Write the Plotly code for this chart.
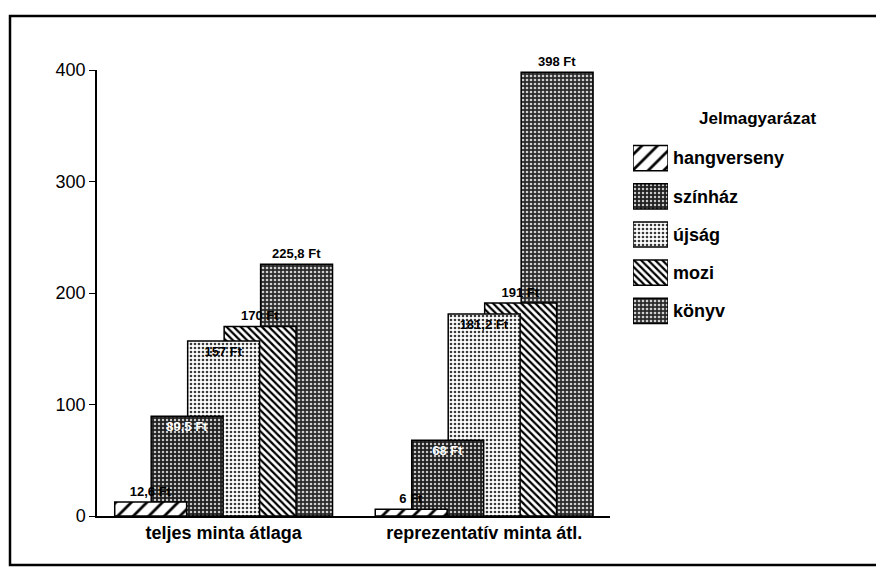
"""
Kulturális kiadások: teljes minta vs. reprezentatív minta
"""
import plotly.graph_objects as go

# adatok
groups = ['teljes minta átlaga', 'reprezentatív minta átl.']
categories = ['hangverseny', 'színház', 'újság', 'mozi', 'könyv']
hangverseny = [12.6, 6]
szinhaz = [89.5, 68]
ujsag = [157, 181.2]
mozi = [170, 191]
konyv = [225.8, 398]
labels = {
    'hangverseny': ['12,6 Ft', '6 Ft'],
    'színház': ['89,5 Ft', '68 Ft'],
    'újság': ['157 Ft', '181,2 Ft'],
    'mozi': ['170 Ft', '191 Ft'],
    'könyv': ['225,8 Ft', '398 Ft'],
}
series = [hangverseny, szinhaz, ujsag, mozi, konyv]

W, H = 884, 576
OFF = 8  # a HTML body alapértelmezett margója
FONT = 'Liberation Sans'


def px(x):
    """ablak-pixel -> papír x"""
    return (x - OFF) / W


def py(y):
    """ablak-pixel -> papír y"""
    return (H - (y - OFF)) / H


# mintázatok (szkennelt fekete-fehér raszter utánzása)
styles = {
    'hangverseny': dict(shape='/', fg='black', bg='white', size=11, solidity=0.25),
    'színház': dict(shape='.', fg='#c8c8c8', bg='#202020', size=4, solidity=0.3),
    'újság': dict(shape='.', fg='#3a3a3a', bg='white', size=4, solidity=0.35),
    'mozi': dict(shape='\\', fg='black', bg='white', size=5, solidity=0.45),
    'könyv': dict(shape='.', fg='#cfcfcf', bg='#2a2a2a', size=4, solidity=0.35),
}
text_pos = {
    'hangverseny': ['outside', 'outside'],
    'színház': ['inside', 'inside'],
    'újság': ['inside', 'inside'],
    'mozi': ['outside', 'outside'],
    'könyv': ['outside', 'outside'],
}
text_col = {
    'hangverseny': 'black', 'színház': 'white', 'újság': 'black',
    'mozi': 'black', 'könyv': 'black',
}


def pattern(name):
    st = styles[name]
    return dict(shape=st['shape'], fgcolor=st['fg'], bgcolor=st['bg'],
                size=st['size'], solidity=st['solidity'], fillmode='replace')


x_pos = list(range(len(groups)))
bar_w = 0.276
step = 0.14

fig = go.Figure()

# hátulról előre: a könyv kerül legalulra
for i in reversed(range(len(categories))):
    name = categories[i]
    fig.add_trace(go.Bar(
        x=x_pos,
        y=series[i],
        name=name,
        width=bar_w,
        offset=-0.418 + step * i,
        text=labels[name],
        textposition=text_pos[name],
        insidetextanchor='end',
        constraintext='none',
        cliponaxis=False,
        textfont=dict(family=FONT, size=13, color=text_col[name], weight='bold'),
        marker=dict(
            color=styles[name]['bg'],
            line=dict(color='black', width=1.5),
            pattern=pattern(name),
        ),
        showlegend=False,
        hoverinfo='x+y+name',
    ))

# jelmagyarázat külön tengelyen, kategóriánként egy minta
for name in categories:
    fig.add_trace(go.Bar(
        x=[1],
        y=[name],
        orientation='h',
        xaxis='x2', yaxis='y2',
        width=0.66,
        marker=dict(
            color=styles[name]['bg'],
            line=dict(color='black', width=1.5),
            pattern=pattern(name),
        ),
        showlegend=False,
        hoverinfo='skip',
    ))

fig.update_layout(
    width=W, height=H,
    margin=dict(l=0, r=0, t=0, b=0),
    barmode='overlay',
    plot_bgcolor='white',
    paper_bgcolor='white',
    font=dict(family=FONT, color='black'),
    xaxis=dict(
        domain=[px(97), px(610)],
        range=[-0.486, 1.483],
        tickvals=x_pos,
        ticktext=groups,
        tickfont=dict(size=18, weight='bold'),
        showline=True, linecolor='black', linewidth=1.5,
        ticks='', showgrid=False, zeroline=False,
        automargin=False,
    ),
    yaxis=dict(
        domain=[py(516), py(70)],
        range=[0, 400],
        tickvals=[0, 100, 200, 300, 400],
        tickfont=dict(size=18),
        showline=True, linecolor='black', linewidth=1.5,
        ticks='outside', ticklen=6, tickcolor='black',
        showgrid=False, zeroline=False,
        automargin=False,
    ),
    xaxis2=dict(
        domain=[px(633), px(668)],
        range=[0, 1],
        anchor='y2',
        visible=False,
    ),
    yaxis2=dict(
        domain=[py(330), py(139)],
        anchor='x2',
        side='right',
        categoryorder='array',
        categoryarray=categories,
        autorange='reversed',
        showline=False, showgrid=False, zeroline=False,
        ticks='', ticklabelstandoff=4,
        tickfont=dict(size=18, weight='bold'),
        automargin=False,
    ),
    annotations=[dict(
        text='Jelmagyarázat',
        xref='paper', yref='paper',
        x=px(758), y=py(118),
        xanchor='center', yanchor='middle',
        showarrow=False,
        font=dict(size=17, weight='bold'),
    )],
    shapes=[dict(
        type='rect', xref='paper', yref='paper',
        x0=px(10), x1=px(878), y0=py(565), y1=py(16),
        line=dict(color='black', width=2.5),
    )],
)

fig.write_html("out.html")
